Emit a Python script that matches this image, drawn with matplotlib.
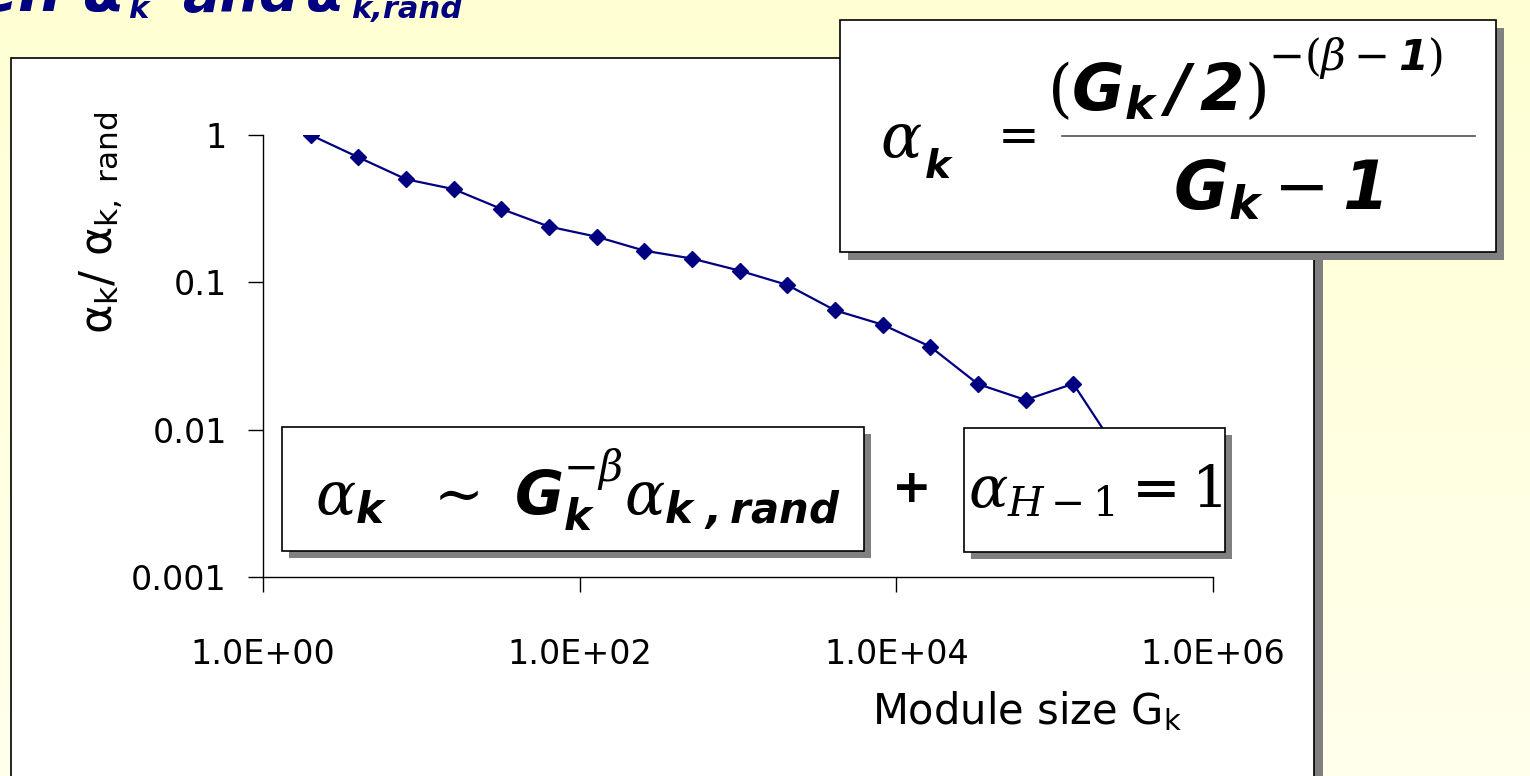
import numpy as np
import matplotlib.pyplot as plt
from matplotlib.patches import Rectangle
from matplotlib.colors import LinearSegmentedColormap

plt.rcParams['font.family'] = 'DejaVu Sans'
plt.rcParams['mathtext.fontset'] = 'custom'
plt.rcParams['mathtext.rm'] = 'DejaVu Serif'
plt.rcParams['mathtext.it'] = 'DejaVu Serif:italic'
plt.rcParams['mathtext.bf'] = 'DejaVu Sans:bold:italic'
plt.rcParams['mathtext.sf'] = 'DejaVu Sans'

# module sizes G_k (powers of two) and the ratio alpha_k / alpha_k,rand
module_size = [2, 4, 8, 16, 32, 64, 128, 256, 512, 1024, 2048, 4096, 8192,
               16384, 32768, 65536, 131072, 262144]
alpha_ratio = [1.0, 0.706, 0.501, 0.429, 0.315, 0.239, 0.204, 0.164, 0.145,
               0.120, 0.096, 0.0646, 0.0516, 0.0366, 0.0204, 0.0159, 0.0205,
               0.0066]

x_ticks = [1, 1e2, 1e4, 1e6]
x_tick_labels = ['1.0E+00', '1.0E+02', '1.0E+04', '1.0E+06']
y_ticks = [0.001, 0.01, 0.1, 1]
y_tick_labels = ['0.001', '0.01', '0.1', '1']

W, H = 1530, 776
NAVY = '#000080'
SHADOW = '#808080'
BOLD_IT = dict(fontweight='bold', fontstyle='italic')


def framed_box(ax, x0, y0, x1, y1, off=8, z=1):
    # white box with black border and a grey drop shadow (pixel coords)
    ax.add_patch(Rectangle((x0 + off, y0 + off), x1 - x0, y1 - y0,
                           facecolor=SHADOW, edgecolor='none', zorder=z))
    ax.add_patch(Rectangle((x0, y0), x1 - x0, y1 - y0, facecolor='white',
                           edgecolor='black', linewidth=1.2, zorder=z + 0.1))


fig = plt.figure(figsize=(W / 100, H / 100), dpi=100)

# slide background, pale yellow getting lighter toward the bottom
bg = fig.add_axes([0, 0, 1, 1], zorder=-2)
bg.set_xlim(0, W)
bg.set_ylim(H, 0)
bg.axis('off')
cmap = LinearSegmentedColormap.from_list('slide', ['#FFFFD3', '#FFFFEC'])
bg.imshow(np.linspace(0, 1, 256)[:, None], cmap=cmap, aspect='auto',
          extent=(0, W, H, 0), zorder=0)
framed_box(bg, 11, 58, 1314, 820, off=9, z=1)

# chart
ax = fig.add_axes([263 / W, 1 - 577 / H, 950 / W, 442 / H], zorder=1)
ax.patch.set_alpha(0)
ax.plot(module_size, alpha_ratio, color=NAVY, linewidth=1.6, marker='D',
        markersize=8, markerfacecolor=NAVY, markeredgecolor=NAVY)
ax.set_xscale('log')
ax.set_yscale('log')
ax.set_xlim(1, 1e6)
ax.set_ylim(0.001, 1)
ax.set_xticks(x_ticks, x_tick_labels)
ax.set_yticks(y_ticks, y_tick_labels)
ax.minorticks_off()
for side in ['top', 'right']:
    ax.spines[side].set_visible(False)
for side in ['left', 'bottom']:
    ax.spines[side].set_linewidth(1.0)
ax.tick_params(direction='out', length=11, width=1.0, labelsize=24,
               colors='black')
ax.tick_params(axis='x', pad=33)
ax.tick_params(axis='y', pad=15)

# overlay for labels, title and formula boxes
ov = fig.add_axes([0, 0, 1, 1], zorder=2)
ov.set_xlim(0, W)
ov.set_ylim(H, 0)
ov.axis('off')

ov.text(102, 223, 'α$_\\mathsf{k}$/ α$_\\mathsf{k,\\ rand}$', rotation=90,
        ha='center', va='center', fontsize=32)
ov.text(1027, 712, 'Module size G$_\\mathsf{k}$', ha='center', va='center',
        fontsize=30)

# slide heading, mostly above the top edge
ov.text(125, 11, 'Relation between α', ha='right', va='baseline',
        fontsize=44, color=NAVY, **BOLD_IT)
ov.text(128, 18, 'k', ha='left', va='baseline', fontsize=22, color=NAVY,
        **BOLD_IT)
ov.text(182, 11, 'and', ha='left', va='baseline', fontsize=40, color=NAVY,
        **BOLD_IT)
ov.text(306, 11, 'α', ha='left', va='baseline', fontsize=40, color=NAVY,
        **BOLD_IT)
ov.text(351, 18, 'k,rand', ha='left', va='baseline', fontsize=22,
        color=NAVY, **BOLD_IT)

# alpha_k = (G_k / 2)^-(beta-1) / (G_k - 1)
framed_box(ov, 840, 20, 1496, 252, off=8)
ov.text(880, 157, 'α', ha='left', va='baseline', fontsize=44,
        family='DejaVu Serif', fontstyle='italic', zorder=3)
ov.text(925, 178, 'k', ha='left', va='baseline', fontsize=28, zorder=3,
        **BOLD_IT)
ov.text(1012, 136, r'$=$', ha='center', va='center', fontsize=36, zorder=3)
ov.plot([1062, 1475], [136, 136], color='#505050', linewidth=1.2, zorder=3)
ov.text(1266, 110, r'$(\mathbf{G}_{\mathbf{k}}\,\mathbf{/}\,\mathbf{2})$',
        ha='right', va='baseline', fontsize=46, zorder=3)
ov.text(1268, 70, r'$-(\beta-\mathbf{1})$', ha='left', va='baseline',
        fontsize=31, zorder=3)
ov.text(1278, 210, r'$\mathbf{G}_{\mathbf{k}} - \mathbf{1}$', ha='center',
        va='baseline', fontsize=48, zorder=3)

framed_box(ov, 282, 427, 864, 551, off=7)
ov.text(578, 490,
        r'$\alpha_{\mathbf{k}}\ \ \sim\ \mathbf{G}_{\mathbf{k}}^{-\beta}'
        r'\alpha_{\mathbf{k\ ,rand}}$',
        ha='center', va='center', fontsize=43, zorder=3)

ov.text(912, 490, '+', ha='center', va='center', fontsize=34,
        fontweight='bold')

framed_box(ov, 964, 428, 1225, 552, off=7)
ov.text(1095, 490, r'$\alpha_{H-1} = 1$', ha='center', va='center',
        fontsize=42, zorder=3)

fig.savefig('out.png', dpi=100)
